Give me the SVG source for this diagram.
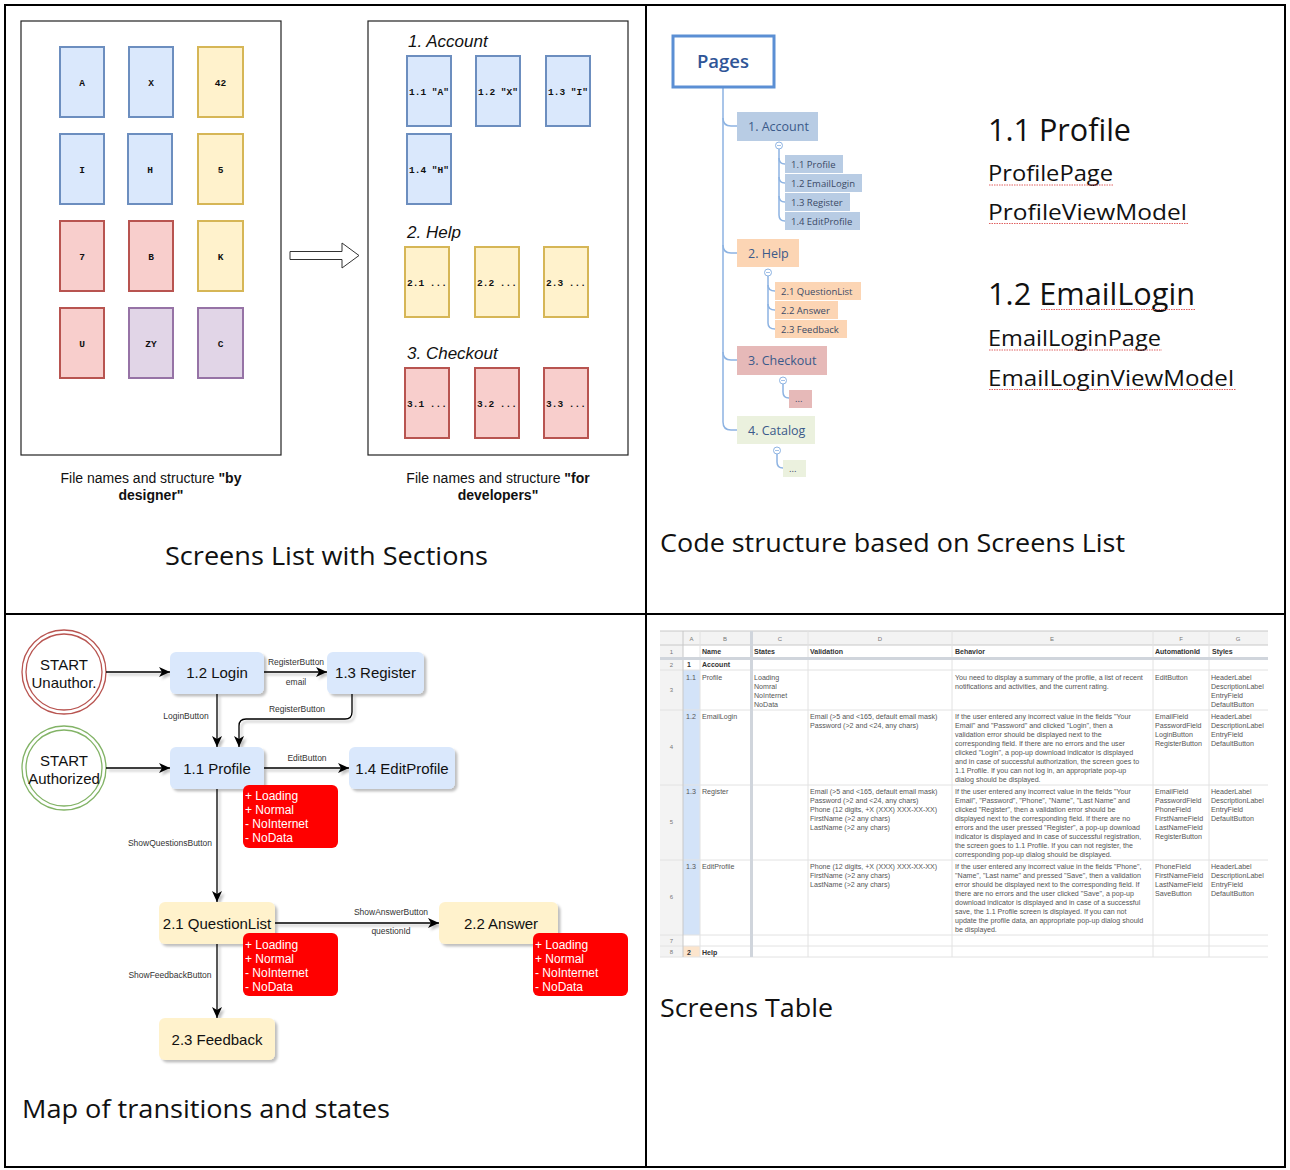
<svg xmlns="http://www.w3.org/2000/svg" width="1290" height="1170" viewBox="0 0 1290 1170">
<defs>
<style>
.frame{fill:none;stroke:#000;stroke-width:2}
.box{fill:#fff;stroke:#222;stroke-width:1.2}
.cb{fill:#dae8fc;stroke:#6c8ebf;stroke-width:2}
.cy{fill:#fff2cc;stroke:#d6b656;stroke-width:2}
.cr{fill:#f8cecc;stroke:#b85450;stroke-width:2}
.cp{fill:#e1d5e7;stroke:#9673a6;stroke-width:2}
.cl{font-family:"Liberation Mono",monospace;font-weight:bold;font-size:9.5px;fill:#111;text-anchor:middle}
.sec{font-family:"Liberation Sans",Arial,sans-serif;font-style:italic;font-size:17px;fill:#111}
.cap{font-family:"Liberation Sans",Arial,sans-serif;font-size:14px;fill:#111;text-anchor:middle}
.title{font-family:"Open Sans","Noto Sans",sans-serif;font-size:25px;fill:#111}
.tl{fill:none;stroke:#8db3e2;stroke-width:1.5}
.tn{font-family:"Open Sans","Noto Sans",sans-serif;font-size:12.5px;fill:#3b5a8a}
.ts{font-family:"Open Sans","Noto Sans",sans-serif;font-size:9.5px;fill:#3b4a66}
.big{font-family:"Open Sans","Noto Sans",sans-serif;fill:#111}
.squig{stroke:#e06060;stroke-width:1;stroke-dasharray:1.5 1}
.n1{fill:#dae8fc}
.n2{fill:#fff2cc}
.nt{font-family:"Liberation Sans",Arial,sans-serif;font-size:15px;fill:#111;text-anchor:middle}
.st{fill:#ff0000}
.stt{font-family:"Liberation Sans",Arial,sans-serif;font-size:12px;fill:#fff}
.el{font-family:"Liberation Sans",Arial,sans-serif;font-size:8.5px;fill:#333;text-anchor:middle}
.edge{fill:none;stroke:#000;stroke-width:1.3}
.gl{stroke:#e2e2e2;stroke-width:1}
.tt{font-family:"Liberation Sans",Arial,sans-serif;font-size:7.1px;fill:#555}
.th{font-family:"Liberation Sans",Arial,sans-serif;font-size:7px;font-weight:bold;fill:#333}
.tc{font-family:"Liberation Sans",Arial,sans-serif;font-size:6px;fill:#777;text-anchor:middle}
</style>
<filter id="sh" x="-10%" y="-10%" width="130%" height="140%">
<feDropShadow dx="2.5" dy="2.5" stdDeviation="0.8" flood-color="#000" flood-opacity="0.25"/>
</filter>
<marker id="arr" markerUnits="userSpaceOnUse" markerWidth="12" markerHeight="10" refX="11" refY="5" orient="auto">
<path d="M0,0 L11,5 L0,10 L3,5 z" fill="#000"/>
</marker>
</defs>

<rect width="1290" height="1170" fill="#fff"/>

<!-- outer frame -->
<g id="frame">
<rect class="frame" x="5" y="5" width="1280" height="1162"/>
<line class="frame" x1="646" y1="5" x2="646" y2="1167"/>
<line class="frame" x1="5" y1="614" x2="1285" y2="614"/>
</g>

<!-- ============ Panel 1 ============ -->
<g id="designer-box">
<rect class="box" x="21" y="21" width="260" height="434"/>
<rect class="cb" x="60" y="47" width="44" height="70"/><text class="cl" x="82" y="86">A</text>
<rect class="cb" x="129" y="47" width="44" height="70"/><text class="cl" x="151" y="86">X</text>
<rect class="cy" x="198" y="47" width="45" height="70"/><text class="cl" x="220.5" y="86">42</text>
<rect class="cb" x="60" y="134" width="44" height="70"/><text class="cl" x="82" y="173">I</text>
<rect class="cb" x="128" y="134" width="44" height="70"/><text class="cl" x="150" y="173">H</text>
<rect class="cy" x="198" y="134" width="45" height="70"/><text class="cl" x="220.5" y="173">5</text>
<rect class="cr" x="60" y="221" width="44" height="70"/><text class="cl" x="82" y="260">7</text>
<rect class="cr" x="129" y="221" width="44" height="70"/><text class="cl" x="151" y="260">B</text>
<rect class="cy" x="198" y="221" width="45" height="70"/><text class="cl" x="220.5" y="260">K</text>
<rect class="cr" x="60" y="308" width="44" height="70"/><text class="cl" x="82" y="347">U</text>
<rect class="cp" x="129" y="308" width="44" height="70"/><text class="cl" x="151" y="347">ZY</text>
<rect class="cp" x="198" y="308" width="45" height="70"/><text class="cl" x="220.5" y="347">C</text>
<text class="cap" x="151" y="483">File names and structure <tspan font-weight="bold">"by</tspan></text>
<text class="cap" x="151" y="500" font-weight="bold">designer"</text>
</g>

<g id="block-arrow">
<polygon points="290,251.5 342,251.5 342,243 359,255.5 342,268 342,259.5 290,259.5" fill="#fff" stroke="#333" stroke-width="1"/>
</g>

<g id="developers-box">
<rect class="box" x="368" y="21" width="260" height="434"/>
<text class="sec" x="408" y="47">1. Account</text>
<rect class="cb" x="407" y="56" width="44" height="70"/><text class="cl" x="429" y="95">1.1 "A"</text>
<rect class="cb" x="476" y="56" width="44" height="70"/><text class="cl" x="498" y="95">1.2 "X"</text>
<rect class="cb" x="546" y="56" width="44" height="70"/><text class="cl" x="568" y="95">1.3 "I"</text>
<rect class="cb" x="407" y="134" width="44" height="70"/><text class="cl" x="429" y="173">1.4 "H"</text>
<text class="sec" x="407" y="238">2. Help</text>
<rect class="cy" x="405" y="247" width="44" height="70"/><text class="cl" x="427" y="286">2.1 ...</text>
<rect class="cy" x="475" y="247" width="44" height="70"/><text class="cl" x="497" y="286">2.2 ...</text>
<rect class="cy" x="544" y="247" width="44" height="70"/><text class="cl" x="566" y="286">2.3 ...</text>
<text class="sec" x="407" y="359">3. Checkout</text>
<rect class="cr" x="405" y="368" width="44" height="70"/><text class="cl" x="427" y="407">3.1 ...</text>
<rect class="cr" x="475" y="368" width="44" height="70"/><text class="cl" x="497" y="407">3.2 ...</text>
<rect class="cr" x="544" y="368" width="44" height="70"/><text class="cl" x="566" y="407">3.3 ...</text>
<text class="cap" x="498" y="483">File names and structure <tspan font-weight="bold">"for</tspan></text>
<text class="cap" x="498" y="500" font-weight="bold">developers"</text>
</g>

<text class="title" x="165" y="565" textLength="323" lengthAdjust="spacingAndGlyphs">Screens List with Sections</text>

<!-- ============ Panel 2 ============ -->
<g id="tree-lines">
<path class="tl" d="M723,88 L723,422 Q723,430 731,430 L737,430"/>
<path class="tl" d="M723,118 Q723,126 731,126 L737,126"/>
<path class="tl" d="M723,245 Q723,253 731,253 L737,253"/>
<path class="tl" d="M723,352 Q723,360 731,360 L737,360"/>
<path class="tl" d="M779,149 L779,215 Q779,221 785,221"/>
<path class="tl" d="M779,158 Q779,164 785,164 M779,177 Q779,183 785,183 M779,196 Q779,202 785,202"/>
<path class="tl" d="M768,276 L768,323 Q768,329 775,329"/>
<path class="tl" d="M768,285 Q768,291 775,291 M768,304 Q768,310 775,310"/>
<path class="tl" d="M783,384 L783,392 Q783,398 789,398"/>
<path class="tl" d="M777,454 L777,462 Q777,468 783,468"/>
<g fill="#fff" stroke="#8db3e2" stroke-width="1">
<circle cx="779" cy="145.5" r="3.5"/><circle cx="768" cy="272.5" r="3.5"/><circle cx="783" cy="380.5" r="3.5"/><circle cx="777" cy="450.5" r="3.5"/>
</g>
<g stroke="#8db3e2" stroke-width="0.8">
<line x1="777" y1="145.5" x2="781" y2="145.5"/><line x1="766" y1="272.5" x2="770" y2="272.5"/><line x1="781" y1="380.5" x2="785" y2="380.5"/><line x1="775" y1="450.5" x2="779" y2="450.5"/>
</g>
</g>
<g id="pages">
<rect x="673" y="36" width="101" height="51" fill="#fff" stroke="#5b8fd4" stroke-width="3"/>
<text x="723" y="68" text-anchor="middle" font-family="'Open Sans','Noto Sans',sans-serif" font-size="18.5px" font-weight="600" fill="#2f5597">Pages</text>
</g>
<g id="t-account">
<rect x="737" y="112" width="81" height="29" fill="#b8cce4"/><text class="tn" x="748" y="131">1. Account</text>
<rect x="785" y="155" width="58" height="18" fill="#b8cce4"/><text class="ts" x="791" y="167.5">1.1 Profile</text>
<rect x="785" y="174" width="77" height="18" fill="#b8cce4"/><text class="ts" x="791" y="186.5">1.2 EmailLogin</text>
<rect x="785" y="193" width="65" height="18" fill="#b8cce4"/><text class="ts" x="791" y="205.5">1.3 Register</text>
<rect x="785" y="212" width="75" height="18" fill="#b8cce4"/><text class="ts" x="791" y="224.5">1.4 EditProfile</text>
</g>
<g id="t-help">
<rect x="737" y="239" width="62" height="28" fill="#fcd5b4"/><text class="tn" x="748" y="258" fill="#4a4f66">2. Help</text>
<rect x="775" y="282" width="86" height="18" fill="#fcd5b4"/><text class="ts" x="781" y="294.5">2.1 QuestionList</text>
<rect x="775" y="301" width="63" height="18" fill="#fcd5b4"/><text class="ts" x="781" y="313.5">2.2 Answer</text>
<rect x="775" y="320" width="72" height="18" fill="#fcd5b4"/><text class="ts" x="781" y="332.5">2.3 Feedback</text>
</g>
<g id="t-checkout">
<rect x="737" y="346" width="90" height="29" fill="#e6b9b8"/><text class="tn" x="748" y="365">3. Checkout</text>
<rect x="789" y="390" width="23" height="18" fill="#e6b9b8"/><text class="ts" x="795" y="402">...</text>
</g>
<g id="t-catalog">
<rect x="737" y="416" width="78" height="28" fill="#ebf1de"/><text class="tn" x="748" y="435">4. Catalog</text>
<rect x="783" y="460" width="23" height="17" fill="#ebf1de"/><text class="ts" x="789" y="472">...</text>
</g>
<g id="code-names">
<text class="big" x="988" y="141" font-size="31px" textLength="143" lengthAdjust="spacingAndGlyphs">1.1 Profile</text>
<text class="big" x="988" y="181" font-size="22px" textLength="125" lengthAdjust="spacingAndGlyphs">ProfilePage</text>
<text class="big" x="988" y="220" font-size="22px" textLength="199" lengthAdjust="spacingAndGlyphs">ProfileViewModel</text>
<text class="big" x="988" y="305" font-size="31px" textLength="207" lengthAdjust="spacingAndGlyphs">1.2 EmailLogin</text>
<text class="big" x="988" y="346" font-size="22px" textLength="173" lengthAdjust="spacingAndGlyphs">EmailLoginPage</text>
<text class="big" x="988" y="386" font-size="22px" textLength="246" lengthAdjust="spacingAndGlyphs">EmailLoginViewModel</text>
<line class="squig" x1="989" y1="185" x2="1114" y2="185"/>
<line class="squig" x1="989" y1="223.5" x2="1189" y2="223.5"/>
<line class="squig" x1="1041" y1="309.5" x2="1196" y2="309.5"/>
<line class="squig" x1="989" y1="350" x2="1162" y2="350"/>
<line class="squig" x1="989" y1="389.5" x2="1236" y2="389.5"/>
</g>
<text class="title" x="660" y="552" textLength="465" lengthAdjust="spacingAndGlyphs">Code structure based on Screens List</text>

<!-- ============ Panel 3 ============ -->
<g id="start-unauth">
<circle cx="64" cy="672" r="42" fill="#fff" stroke="#b85450" stroke-width="1.3"/>
<circle cx="64" cy="672" r="38" fill="none" stroke="#b85450" stroke-width="1.3"/>
<text class="nt" x="64" y="670">START</text>
<text class="nt" x="64" y="688">Unauthor.</text>
</g>
<g id="start-auth">
<circle cx="64" cy="768" r="42" fill="#fff" stroke="#82b366" stroke-width="1.3"/>
<circle cx="64" cy="768" r="38" fill="none" stroke="#82b366" stroke-width="1.3"/>
<text class="nt" x="64" y="766">START</text>
<text class="nt" x="64" y="784">Authorized</text>
</g>

<g id="connectors" filter="url(#sh)">
<path class="edge" d="M106,672 L170,672" marker-end="url(#arr)"/>
<path class="edge" d="M264,672 L327,672" marker-end="url(#arr)"/>
<path class="edge" d="M217,694 L217,747" marker-end="url(#arr)"/>
<path class="edge" d="M352,694 L352,712 Q352,719 345,719 L246,719 Q239,719 239,726 L239,747" marker-end="url(#arr)"/>
<path class="edge" d="M106,768 L170,768" marker-end="url(#arr)"/>
<path class="edge" d="M264,768 L349,768" marker-end="url(#arr)"/>
<path class="edge" d="M217,789 L217,902" marker-end="url(#arr)"/>
<path class="edge" d="M275,923 L439,923" marker-end="url(#arr)"/>
<path class="edge" d="M217,944 L217,1018" marker-end="url(#arr)"/>
</g>
<g id="edge-labels">
<text class="el" x="296" y="665">RegisterButton</text>
<text class="el" x="296" y="685">email</text>
<text class="el" x="186" y="719">LoginButton</text>
<text class="el" x="297" y="712">RegisterButton</text>
<text class="el" x="307" y="761">EditButton</text>
<text class="el" x="170" y="846">ShowQuestionsButton</text>
<text class="el" x="391" y="915">ShowAnswerButton</text>
<text class="el" x="391" y="934">questionId</text>
<text class="el" x="170" y="978">ShowFeedbackButton</text>
</g>

<g id="n-login"><rect class="n1" x="170" y="652" width="94" height="42" rx="6" filter="url(#sh)"/><text class="nt" x="217" y="678">1.2 Login</text></g>
<g id="n-register"><rect class="n1" x="327" y="652" width="97" height="42" rx="6" filter="url(#sh)"/><text class="nt" x="375.5" y="678">1.3 Register</text></g>
<g id="n-profile"><rect class="n1" x="170" y="747" width="94" height="42" rx="6" filter="url(#sh)"/><text class="nt" x="217" y="774">1.1 Profile</text></g>
<g id="n-editprofile"><rect class="n1" x="349" y="747" width="106" height="42" rx="6" filter="url(#sh)"/><text class="nt" x="402" y="774">1.4 EditProfile</text></g>
<g id="s-profile"><rect class="st" x="243" y="785" width="95" height="63" rx="6"/>
<text class="stt" x="245" y="800">+ Loading</text><text class="stt" x="245" y="814">+ Normal</text><text class="stt" x="245" y="828">- NoInternet</text><text class="stt" x="245" y="842">- NoData</text></g>
<g id="n-questionlist"><rect class="n2" x="159" y="902" width="116" height="42" rx="6" filter="url(#sh)"/><text class="nt" x="217" y="929">2.1 QuestionList</text></g>
<g id="n-answer"><rect class="n2" x="439" y="902" width="119" height="42" rx="6" filter="url(#sh)"/><text class="nt" x="501" y="929">2.2 Answer</text></g>
<g id="s-questionlist"><rect class="st" x="243" y="933" width="95" height="63" rx="6"/>
<text class="stt" x="245" y="949">+ Loading</text><text class="stt" x="245" y="963">+ Normal</text><text class="stt" x="245" y="977">- NoInternet</text><text class="stt" x="245" y="991">- NoData</text></g>
<g id="s-answer"><rect class="st" x="533" y="933" width="95" height="63" rx="6"/>
<text class="stt" x="535" y="949">+ Loading</text><text class="stt" x="535" y="963">+ Normal</text><text class="stt" x="535" y="977">- NoInternet</text><text class="stt" x="535" y="991">- NoData</text></g>
<g id="n-feedback"><rect class="n2" x="159" y="1018" width="116" height="42" rx="6" filter="url(#sh)"/><text class="nt" x="217" y="1045">2.3 Feedback</text></g>

<text class="title" x="22" y="1118" textLength="368" lengthAdjust="spacingAndGlyphs">Map of transitions and states</text>

<!-- ============ Panel 4: table ============ -->
<g id="screens-table">
<rect x="660" y="631" width="608" height="326" fill="#fff"/>
<rect x="660" y="631" width="608" height="14" fill="#f3f3f3"/>
<rect x="660" y="631" width="23" height="326" fill="#f3f3f3"/>
<rect x="683" y="670" width="17" height="265" fill="#d3e3f8"/>
<rect x="683" y="946" width="17" height="11" fill="#fce5cd"/>
<g class="gl">
<line x1="660" y1="631" x2="1268" y2="631" stroke="#c8c8c8"/>
<line x1="660" y1="645" x2="1268" y2="645" stroke="#c8c8c8"/>
<line x1="660" y1="670" x2="1268" y2="670"/>
<line x1="660" y1="710" x2="1268" y2="710"/>
<line x1="660" y1="785" x2="1268" y2="785"/>
<line x1="660" y1="860" x2="1268" y2="860"/>
<line x1="660" y1="935" x2="1268" y2="935"/>
<line x1="660" y1="946" x2="1268" y2="946"/>
<line x1="660" y1="957" x2="1268" y2="957"/>
<line x1="683" y1="631" x2="683" y2="957" stroke="#c8c8c8"/>
<line x1="700" y1="631" x2="700" y2="957"/>
<line x1="808" y1="631" x2="808" y2="957"/>
<line x1="952" y1="631" x2="952" y2="957"/>
<line x1="1153" y1="631" x2="1153" y2="957"/>
<line x1="1209" y1="631" x2="1209" y2="957"/>
</g>
<rect x="660" y="657" width="608" height="3" fill="#d0d5dc"/>
<rect x="750" y="631" width="3" height="326" fill="#d0d5dc"/>

<text class="tc" x="691.5" y="641">A</text><text class="tc" x="725" y="641">B</text><text class="tc" x="780" y="641">C</text><text class="tc" x="880" y="641">D</text><text class="tc" x="1052" y="641">E</text><text class="tc" x="1181" y="641">F</text><text class="tc" x="1238" y="641">G</text>
<text class="tc" x="671.5" y="654">1</text><text class="tc" x="671.5" y="667">2</text><text class="tc" x="671.5" y="692">3</text><text class="tc" x="671.5" y="749">4</text><text class="tc" x="671.5" y="824">5</text><text class="tc" x="671.5" y="899">6</text><text class="tc" x="671.5" y="943">7</text><text class="tc" x="671.5" y="954">8</text>

<text class="th" x="702" y="653.5">Name</text><text class="th" x="754" y="653.5">States</text><text class="th" x="810" y="653.5">Validation</text><text class="th" x="955" y="653.5">Behavior</text><text class="th" x="1155" y="653.5">AutomationId</text><text class="th" x="1212" y="653.5">Styles</text>
<text class="th" x="687" y="667">1</text><text class="th" x="702" y="667">Account</text>

<text class="tt" x="686" y="679.5">1.1</text><text class="tt" x="702" y="679.5">Profile</text>
<text class="tt" x="754" y="679.5">Loading</text><text class="tt" x="754" y="688.5">Nomral</text><text class="tt" x="754" y="697.5">NoInternet</text><text class="tt" x="754" y="706.5">NoData</text>
<text class="tt" x="955" y="679.5">You need to display a summary of the profile, a list of recent</text>
<text class="tt" x="955" y="688.5">notifications and activities, and the current rating.</text>
<text class="tt" x="1155" y="679.5">EditButton</text>
<text class="tt" x="1211" y="679.5">HeaderLabel</text><text class="tt" x="1211" y="688.5">DescriptionLabel</text><text class="tt" x="1211" y="697.5">EntryField</text><text class="tt" x="1211" y="706.5">DefaultButton</text>

<text class="tt" x="686" y="718.5">1.2</text><text class="tt" x="702" y="718.5">EmailLogin</text>
<text class="tt" x="810" y="718.5">Email (&gt;5 and &lt;165, default email mask)</text>
<text class="tt" x="810" y="727.5">Password (&gt;2 and &lt;24, any chars)</text>
<text class="tt" x="955" y="718.5">If the user entered any incorrect value in the fields "Your</text>
<text class="tt" x="955" y="727.5">Email" and "Password" and clicked "Login", then a</text>
<text class="tt" x="955" y="736.5">validation error should be displayed next to the</text>
<text class="tt" x="955" y="745.5">corresponding field. If there are no errors and the user</text>
<text class="tt" x="955" y="754.5">clicked "Login", a pop-up download indicator is displayed</text>
<text class="tt" x="955" y="763.5">and in case of successful authorization, the screen goes to</text>
<text class="tt" x="955" y="772.5">1.1 Profile. If you can not log in, an appropriate pop-up</text>
<text class="tt" x="955" y="781.5">dialog should be displayed.</text>
<text class="tt" x="1155" y="718.5">EmailField</text><text class="tt" x="1155" y="727.5">PasswordField</text><text class="tt" x="1155" y="736.5">LoginButton</text><text class="tt" x="1155" y="745.5">RegisterButton</text>
<text class="tt" x="1211" y="718.5">HeaderLabel</text><text class="tt" x="1211" y="727.5">DescriptionLabel</text><text class="tt" x="1211" y="736.5">EntryField</text><text class="tt" x="1211" y="745.5">DefaultButton</text>

<text class="tt" x="686" y="793.5">1.3</text><text class="tt" x="702" y="793.5">Register</text>
<text class="tt" x="810" y="793.5">Email (&gt;5 and &lt;165, default email mask)</text>
<text class="tt" x="810" y="802.5">Password (&gt;2 and &lt;24, any chars)</text>
<text class="tt" x="810" y="811.5">Phone (12 digits, +X (XXX) XXX-XX-XX)</text>
<text class="tt" x="810" y="820.5">FirstName (&gt;2 any chars)</text>
<text class="tt" x="810" y="829.5">LastName (&gt;2 any chars)</text>
<text class="tt" x="955" y="793.5">If the user entered any incorrect value in the fields "Your</text>
<text class="tt" x="955" y="802.5">Email", "Password", "Phone", "Name", "Last Name" and</text>
<text class="tt" x="955" y="811.5">clicked "Register", then a validation error should be</text>
<text class="tt" x="955" y="820.5">displayed next to the corresponding field. If there are no</text>
<text class="tt" x="955" y="829.5">errors and the user pressed "Register", a pop-up download</text>
<text class="tt" x="955" y="838.5">indicator is displayed and in case of successful registration,</text>
<text class="tt" x="955" y="847.5">the screen goes to 1.1 Profile. If you can not register, the</text>
<text class="tt" x="955" y="856.5">corresponding pop-up dialog should be displayed.</text>
<text class="tt" x="1155" y="793.5">EmailField</text><text class="tt" x="1155" y="802.5">PasswordField</text><text class="tt" x="1155" y="811.5">PhoneField</text><text class="tt" x="1155" y="820.5">FirstNameField</text><text class="tt" x="1155" y="829.5">LastNameField</text><text class="tt" x="1155" y="838.5">RegisterButton</text>
<text class="tt" x="1211" y="793.5">HeaderLabel</text><text class="tt" x="1211" y="802.5">DescriptionLabel</text><text class="tt" x="1211" y="811.5">EntryField</text><text class="tt" x="1211" y="820.5">DefaultButton</text>

<text class="tt" x="686" y="868.5">1.3</text><text class="tt" x="702" y="868.5">EditProfile</text>
<text class="tt" x="810" y="868.5">Phone (12 digits, +X (XXX) XXX-XX-XX)</text>
<text class="tt" x="810" y="877.5">FirstName (&gt;2 any chars)</text>
<text class="tt" x="810" y="886.5">LastName (&gt;2 any chars)</text>
<text class="tt" x="955" y="868.5">If the user entered any incorrect value in the fields "Phone",</text>
<text class="tt" x="955" y="877.5">"Name", "Last name" and pressed "Save", then a validation</text>
<text class="tt" x="955" y="886.5">error should be displayed next to the corresponding field. If</text>
<text class="tt" x="955" y="895.5">there are no errors and the user clicked "Save", a pop-up</text>
<text class="tt" x="955" y="904.5">download indicator is displayed and in case of a successful</text>
<text class="tt" x="955" y="913.5">save, the 1.1 Profile screen is displayed. If you can not</text>
<text class="tt" x="955" y="922.5">update the profile data, an appropriate pop-up dialog should</text>
<text class="tt" x="955" y="931.5">be displayed.</text>
<text class="tt" x="1155" y="868.5">PhoneField</text><text class="tt" x="1155" y="877.5">FirstNameField</text><text class="tt" x="1155" y="886.5">LastNameField</text><text class="tt" x="1155" y="895.5">SaveButton</text>
<text class="tt" x="1211" y="868.5">HeaderLabel</text><text class="tt" x="1211" y="877.5">DescriptionLabel</text><text class="tt" x="1211" y="886.5">EntryField</text><text class="tt" x="1211" y="895.5">DefaultButton</text>

<text class="th" x="687" y="954.5">2</text><text class="th" x="702" y="954.5">Help</text>
</g>

<text class="title" x="660" y="1017" textLength="173" lengthAdjust="spacingAndGlyphs">Screens Table</text>
</svg>
